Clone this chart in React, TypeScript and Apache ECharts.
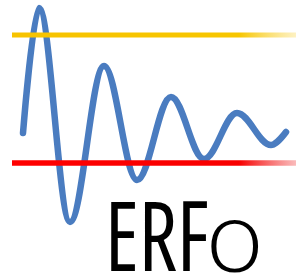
import React, { useEffect, useRef } from "react";
import * as echarts from "echarts";

// Damped oscillation extrema (x = time, y = level measured downward)
const time = [23, 39, 70, 104, 137, 171, 204, 237, 271, 286];
const signal = [133, 8, 222, 66, 180, 97, 159, 113, 145, 132];

// Threshold lines
const upperLevel = [35, 35];
const lowerLevel = [163, 163];
const levelSpan = [12, 296];

const logoCaps = "ERF";
const logoTail = "o";

export default function App() {
  const ref = useRef<HTMLDivElement>(null);
  useEffect(() => {
    document.body.style.margin = "0";
    const chart = echarts.init(ref.current!, null, { renderer: "svg" });
    const wave = time.map((t, i) => [t, signal[i]]);
    const upper = levelSpan.map((t, i) => [t, upperLevel[i]]);
    const lower = levelSpan.map((t, i) => [t, lowerLevel[i]]);
    chart.setOption({
      animation: false,
      backgroundColor: "#ffffff",
      grid: { left: 0, right: 0, top: 0, bottom: 0 },
      xAxis: { type: "value", min: 0, max: 296, show: false },
      yAxis: { type: "value", min: 0, max: 274, inverse: true, show: false },
      series: [
        {
          type: "line",
          data: wave,
          smooth: 0.36,
          smoothMonotone: "x",
          symbol: "none",
          lineStyle: { color: "#4a7cc0", width: 6.5, cap: "round" },
          z: 1,
        },
        {
          type: "line",
          data: upper,
          symbol: "none",
          lineStyle: {
            width: 5,
            color: new echarts.graphic.LinearGradient(12, 0, 296, 0, [
              { offset: 0, color: "#f7c300" },
              { offset: 0.8, color: "#f7c600" },
              { offset: 1, color: "rgba(250,215,80,0.35)" },
            ], true),
          },
          z: 2,
        },
        {
          type: "line",
          data: lower,
          symbol: "none",
          lineStyle: {
            width: 5.5,
            color: new echarts.graphic.LinearGradient(12, 0, 296, 0, [
              { offset: 0, color: "#ff0000" },
              { offset: 0.8, color: "#f80000" },
              { offset: 1, color: "rgba(240,60,60,0.35)" },
            ], true),
          },
          z: 2,
        },
      ],
      graphic: [
        {
          type: "text",
          x: 105,
          y: 234,
          scaleX: 0.87,
          style: {
            text: logoCaps,
            font: "condensed 370 97px 'Open Sans'",
            fill: "#000000",
            textAlign: "left",
            textVerticalAlign: "middle",
          },
        },
        {
          type: "text",
          x: 206,
          y: 232,
          scaleX: 1.0,
          style: {
            text: logoTail,
            font: "320 103px Lato",
            fill: "#000000",
            textAlign: "left",
            textVerticalAlign: "middle",
          },
        },
      ],
    });
    return () => chart.dispose();
  }, []);
  return (
    <div
      ref={ref}
      style={{ position: "absolute", left: 0, top: 0, width: 296, height: 274 }}
    />
  );
}
